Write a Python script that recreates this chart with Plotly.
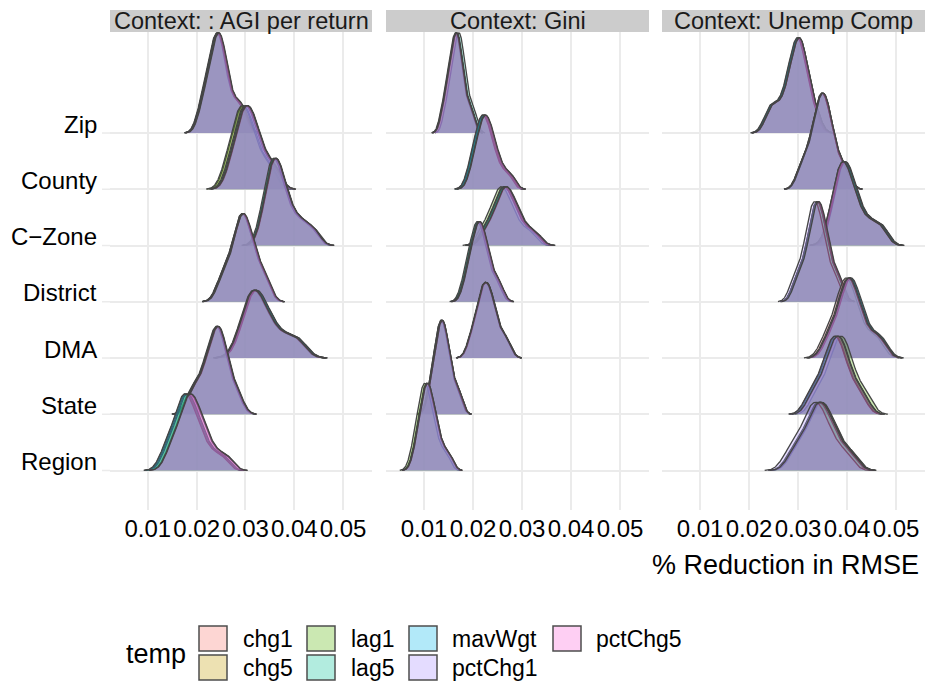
import numpy as np
import plotly.graph_objects as go

# ---------------------------------------------------------------------------
# Data
# ---------------------------------------------------------------------------
geographies = ["Zip", "County", "C\u2212Zone", "District", "DMA", "State", "Region"]  # top -> bottom
geo_pos = [7, 6, 5, 4, 3, 2, 1]
methods = ["chg1", "chg5", "lag1", "lag5", "mavWgt", "pctChg1", "pctChg5"]
method_colors = ["#F8766D", "#C49A00", "#53B400", "#00C094", "#00B6EB", "#A58AFF", "#FB61D7"]
contexts = ["Context: : AGI per return", "Context: Gini", "Context: Unemp Comp"]
x_ticks = [0.01, 0.02, 0.03, 0.04, 0.05]
x_tick_text = ["0.01", "0.02", "0.03", "0.04", "0.05"]

# % reduction in RMSE, resampled results per geography (Zip ... Region)
agi_results = [
    [0.0208, 0.0220, 0.0226, 0.0231, 0.0236, 0.0240, 0.0244, 0.0247, 0.0251, 0.0255, 0.0260, 0.0270, 0.0283, 0.0296],
    [0.0266, 0.0279, 0.0286, 0.0291, 0.0296, 0.0301, 0.0306, 0.0311, 0.0317, 0.0323, 0.0332, 0.0346, 0.0362],
    [0.0335, 0.0345, 0.0350, 0.0354, 0.0358, 0.0361, 0.0365, 0.0371, 0.0376, 0.0382, 0.0391, 0.0405, 0.0420, 0.0440],
    [0.0248, 0.0261, 0.0273, 0.0279, 0.0284, 0.0289, 0.0293, 0.0297, 0.0301, 0.0306, 0.0312, 0.0319, 0.0330, 0.0343],
    [0.0288, 0.0300, 0.0306, 0.0311, 0.0316, 0.0320, 0.0325, 0.0332, 0.0340, 0.0348, 0.0359, 0.0377, 0.0395, 0.0412],
    [0.0187, 0.0200, 0.0214, 0.0221, 0.0227, 0.0233, 0.0238, 0.0242, 0.0246, 0.0250, 0.0254, 0.0260, 0.0271, 0.0285],
    [0.0140, 0.0152, 0.0164, 0.0170, 0.0175, 0.0180, 0.0184, 0.0189, 0.0195, 0.0201, 0.0208, 0.0218, 0.0234, 0.0258],
]
gini_results = [
    [0.0139, 0.0148, 0.0153, 0.0157, 0.0160, 0.0164, 0.0166, 0.0169, 0.0172, 0.0175, 0.0179, 0.0187, 0.0198],
    [0.0195, 0.0205, 0.0210, 0.0215, 0.0219, 0.0222, 0.0226, 0.0230, 0.0235, 0.0240, 0.0246, 0.0258, 0.0275],
    [0.0224, 0.0236, 0.0247, 0.0253, 0.0258, 0.0262, 0.0266, 0.0270, 0.0276, 0.0281, 0.0287, 0.0296, 0.0310, 0.0328],
    [0.0183, 0.0193, 0.0198, 0.0203, 0.0207, 0.0210, 0.0214, 0.0217, 0.0221, 0.0226, 0.0231, 0.0241, 0.0254],
    [0.0195, 0.0206, 0.0212, 0.0216, 0.0220, 0.0224, 0.0228, 0.0232, 0.0236, 0.0240, 0.0246, 0.0257, 0.0270],
    [0.0111, 0.0120, 0.0125, 0.0128, 0.0132, 0.0135, 0.0137, 0.0141, 0.0144, 0.0148, 0.0152, 0.0161, 0.0172],
    [0.0081, 0.0090, 0.0095, 0.0098, 0.0102, 0.0105, 0.0108, 0.0111, 0.0115, 0.0120, 0.0125, 0.0135, 0.0150],
]
unemp_results = [
    [0.0240, 0.0252, 0.0266, 0.0278, 0.0284, 0.0289, 0.0294, 0.0298, 0.0301, 0.0305, 0.0308, 0.0312, 0.0316, 0.0325, 0.0337],
    [0.0305, 0.0318, 0.0329, 0.0335, 0.0340, 0.0344, 0.0348, 0.0352, 0.0356, 0.0360, 0.0365, 0.0371, 0.0382, 0.0398],
    [0.0366, 0.0376, 0.0381, 0.0386, 0.0390, 0.0393, 0.0398, 0.0403, 0.0409, 0.0415, 0.0424, 0.0438, 0.0455, 0.0472],
    [0.0296, 0.0309, 0.0320, 0.0326, 0.0330, 0.0334, 0.0338, 0.0342, 0.0346, 0.0350, 0.0354, 0.0360, 0.0371, 0.0384],
    [0.0358, 0.0371, 0.0383, 0.0389, 0.0394, 0.0399, 0.0403, 0.0407, 0.0411, 0.0416, 0.0422, 0.0429, 0.0440, 0.0456, 0.0472],
    [0.0326, 0.0340, 0.0354, 0.0361, 0.0367, 0.0373, 0.0378, 0.0382, 0.0387, 0.0392, 0.0398, 0.0406, 0.0419, 0.0435],
    [0.0287, 0.0302, 0.0316, 0.0325, 0.0331, 0.0337, 0.0343, 0.0348, 0.0353, 0.0360, 0.0367, 0.0376, 0.0391, 0.0410],
]

# per-method shift of each geography's results (Zip ... Region)
agi_method_shift = {
    "chg1":    [0.0001, 0.0002, 0.0001, 0.0001, 0.0001, 0.0001, 0.0003],
    "chg5":    [-0.0001, -0.0006, 0.0000, -0.0001, -0.0002, 0.0000, -0.0006],
    "lag1":    [0.0000, -0.0008, -0.0001, 0.0000, 0.0003, -0.0001, -0.0004],
    "lag5":    [-0.0002, -0.0002, -0.0003, -0.0001, 0.0002, -0.0002, -0.0002],
    "mavWgt":  [-0.0001, 0.0000, 0.0001, 0.0000, 0.0004, 0.0000, -0.0007],
    "pctChg1": [0.0001, 0.0003, 0.0002, 0.0001, -0.0001, 0.0002, 0.0004],
    "pctChg5": [0.0002, 0.0002, 0.0001, 0.0002, 0.0000, 0.0001, 0.0005],
}
gini_method_shift = {
    "chg1":    [0.0000, 0.0002, 0.0001, 0.0000, 0.0001, 0.0000, 0.0001],
    "chg5":    [-0.0002, -0.0001, 0.0000, -0.0001, 0.0000, -0.0001, 0.0000],
    "lag1":    [0.0000, 0.0001, -0.0008, 0.0001, 0.0000, -0.0001, -0.0004],
    "lag5":    [0.0005, -0.0002, -0.0003, -0.0003, -0.0001, 0.0001, 0.0001],
    "mavWgt":  [0.0001, -0.0003, -0.0002, 0.0001, 0.0001, 0.0001, 0.0002],
    "pctChg1": [-0.0001, 0.0002, 0.0003, 0.0001, 0.0000, 0.0000, 0.0001],
    "pctChg5": [0.0000, 0.0003, 0.0002, 0.0002, 0.0000, 0.0001, 0.0002],
}
unemp_method_shift = {
    "chg1":    [0.0001, 0.0001, 0.0000, 0.0001, -0.0006, -0.0002, 0.0001],
    "chg5":    [0.0000, 0.0000, 0.0002, 0.0000, 0.0001, 0.0001, 0.0003],
    "lag1":    [0.0000, 0.0001, 0.0004, -0.0001, 0.0002, 0.0008, 0.0004],
    "lag5":    [-0.0002, -0.0001, 0.0002, 0.0000, 0.0001, 0.0002, 0.0002],
    "mavWgt":  [-0.0003, 0.0000, 0.0003, -0.0001, 0.0004, -0.0004, -0.0002],
    "pctChg1": [0.0001, -0.0001, -0.0001, -0.0006, -0.0002, -0.0005, -0.0009],
    "pctChg5": [0.0001, 0.0001, -0.0001, 0.0002, 0.0000, 0.0001, 0.0001],
}

panel_results = [agi_results, gini_results, unemp_results]
panel_shifts = [agi_method_shift, gini_method_shift, unemp_method_shift]

# ---------------------------------------------------------------------------
# Styling / geometry
# ---------------------------------------------------------------------------
W, H = 928, 684
FONT = "Liberation Sans, Arial, Helvetica, sans-serif"
GRID = "#EBEBEB"
OUTLINE = "#454545"
RIDGE_HEIGHT = 1.78        # tallest ridge of a panel, in row units
X_RANGE = [0.00224, 0.05592]
Y_RANGE = [0.298, 8.796]
panel_px = [(110, 372), (386, 649), (662, 925)]
panel_top_px, panel_bottom_px = 32, 510


def px_x(p):
    return p / W


def px_y(p):
    return 1 - p / H


def rgba(hex_color, a):
    h = hex_color.lstrip("#")
    r, g, b = int(h[0:2], 16), int(h[2:4], 16), int(h[4:6], 16)
    return f"rgba({r},{g},{b},{a})"


def density(values):
    """Gaussian kernel density (Silverman bandwidth), tails run out to ~zero."""
    v = np.asarray(values, dtype=float)
    n = v.size
    sd = v.std(ddof=1)
    iqr = np.percentile(v, 75) - np.percentile(v, 25)
    bw = 0.9 * min(sd, iqr / 1.34) * n ** -0.2
    grid = np.linspace(v.min() - 3 * bw, v.max() + 3 * bw, 300)
    d = np.exp(-0.5 * ((grid[:, None] - v[None, :]) / bw) ** 2).sum(axis=1)
    d /= n * bw * np.sqrt(2 * np.pi)
    return grid, d


fig = go.Figure()

for k in range(3):
    xa = "x" if k == 0 else f"x{k + 1}"
    ya = "y" if k == 0 else f"y{k + 1}"
    results = panel_results[k]
    shifts = panel_shifts[k]

    curves = {}
    for gi in range(len(geographies)):
        for m in methods:
            vals = np.asarray(results[gi]) + shifts[m][gi]
            curves[(gi, m)] = density(vals)
    dmax = max(c[1].max() for c in curves.values())
    scale = RIDGE_HEIGHT / dmax

    # ridges drawn from the top row down so lower rows overlap upper ones
    for gi in range(len(geographies)):
        base = geo_pos[gi]
        for mi, m in enumerate(methods):
            grid, d = curves[(gi, m)]
            top = base + d * scale
            fig.add_trace(go.Scatter(
                x=np.concatenate([grid, grid[::-1]]),
                y=np.concatenate([top, np.full_like(grid, base)]),
                xaxis=xa, yaxis=ya, mode="lines", fill="toself",
                fillcolor=rgba(method_colors[mi], 0.3),
                line=dict(width=0), hoverinfo="skip", showlegend=False,
            ))
            fig.add_trace(go.Scatter(
                x=grid, y=top, xaxis=xa, yaxis=ya, mode="lines",
                line=dict(color=OUTLINE, width=1.3),
                hoverinfo="skip", showlegend=False,
            ))

layout = dict(
    width=W, height=H,
    margin=dict(l=0, r=0, t=0, b=0),
    paper_bgcolor="white", plot_bgcolor="white",
    showlegend=False,
    font=dict(family=FONT, color="#000000"),
)

ydom = [px_y(panel_bottom_px), px_y(panel_top_px)]
for k, (l, r) in enumerate(panel_px):
    sx = "" if k == 0 else str(k + 1)
    layout[f"xaxis{sx}"] = dict(
        domain=[px_x(l), px_x(r)], range=X_RANGE, anchor=f"y{sx}",
        tickvals=x_ticks, ticktext=x_tick_text, showgrid=True,
        gridcolor=GRID, gridwidth=1.5, zeroline=False, showline=False,
        ticks="", ticklabelstandoff=2,
        tickfont=dict(size=24, color="#000000", family=FONT),
    )
    layout[f"yaxis{sx}"] = dict(
        domain=ydom, range=Y_RANGE, anchor=f"x{sx}",
        tickvals=geo_pos, showticklabels=False, showgrid=True,
        gridcolor=GRID, gridwidth=1.5, zeroline=False, showline=False, ticks="",
    )
fig.update_layout(**layout)

shapes = []
annotations = []

# facet strips
for k, (l, r) in enumerate(panel_px):
    shapes.append(dict(type="rect", xref="paper", yref="paper",
                       x0=px_x(l), x1=px_x(r), y0=px_y(32), y1=px_y(10),
                       fillcolor="#CCCCCC", line=dict(width=0), layer="below"))
    annotations.append(dict(text=contexts[k], xref="paper", yref="paper",
                            x=px_x((l + r) / 2), y=px_y(21), xanchor="center",
                            yanchor="middle", showarrow=False,
                            font=dict(size=23.5, color="#1A1A1A", family=FONT)))

# geography labels sitting on their baselines
for gi, geo in enumerate(geographies):
    annotations.append(dict(text=geo, xref="paper", yref="y", x=px_x(99),
                            y=geo_pos[gi], xanchor="right", yanchor="middle",
                            yshift=9, showarrow=False,
                            font=dict(size=24, color="#000000", family=FONT)))
    shapes.append(dict(type="line", xref="paper", yref="y", x0=px_x(102),
                       x1=px_x(110), y0=geo_pos[gi], y1=geo_pos[gi],
                       line=dict(color=GRID, width=1.5), layer="below"))

# x axis title
annotations.append(dict(text="% Reduction in RMSE", xref="paper", yref="paper",
                        x=px_x(921), y=px_y(565), xanchor="right", yanchor="middle",
                        showarrow=False, font=dict(size=27, color="#000000", family=FONT)))

# legend
annotations.append(dict(text="temp", xref="paper", yref="paper", x=px_x(124),
                        y=px_y(654), xanchor="left", yanchor="middle",
                        showarrow=False, font=dict(size=27, color="#000000", family=FONT)))
key_cols = [199, 307, 409, 553]
text_cols = [241, 349, 450, 594]
key_tops = [626, 655]
for i, m in enumerate(methods):
    c, rr = i // 2, i % 2
    shapes.append(dict(type="rect", xref="paper", yref="paper",
                       x0=px_x(key_cols[c]), x1=px_x(key_cols[c] + 28),
                       y0=px_y(key_tops[rr] + 25), y1=px_y(key_tops[rr]),
                       fillcolor=rgba(method_colors[i], 0.3),
                       line=dict(color="#4D4D4D", width=1.5)))
    annotations.append(dict(text=m, xref="paper", yref="paper", x=px_x(text_cols[c]),
                            y=px_y(key_tops[rr] + 12.5), xanchor="left", yanchor="middle",
                            showarrow=False, font=dict(size=23, color="#000000", family=FONT)))

fig.update_layout(shapes=shapes, annotations=annotations)
fig.write_html("out.html")
